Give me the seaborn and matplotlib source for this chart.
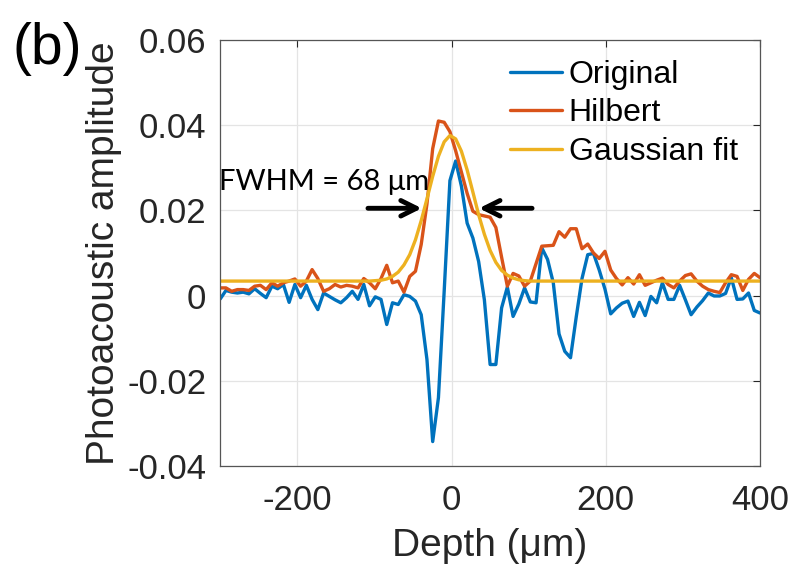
import numpy as np
import pandas as pd
import matplotlib
matplotlib.use("Agg")
import matplotlib.pyplot as plt
import seaborn as sns

# depth grid (um), 95 samples from -300 to 400
depth = np.linspace(-300, 400, 95)

original = [
    -0.0008, 0.0012, 0.0008, 0.0006, 0.0008, 0.0004, 0.0016, 0.0005, -0.0005, 0.0022,
    0.0016, 0.0026, -0.0016, 0.0026, -0.0005, 0.0024, -0.0009, -0.0033, 0.0006, -0.0002,
    -0.0010, -0.0017, -0.0005, 0.0010, -0.0009, 0.0026, -0.0024, -0.0003, -0.0009, -0.0068,
    -0.0017, -0.0021, 0.0002, -0.0002, -0.0013, -0.0045, -0.0150, -0.0343, -0.0240, 0.0010,
    0.0270, 0.0316, 0.0257, 0.0170, 0.0135, 0.0080, -0.0010, -0.0162, -0.0162, -0.0029,
    0.0020, -0.0049, -0.0020, 0.0018, -0.0015, -0.0017, 0.0112, 0.0085, 0.0030, -0.0090,
    -0.0131, -0.0146, -0.0050, 0.0040, 0.0096, 0.0099, 0.0060, 0.0015, -0.0043, -0.0029,
    -0.0018, -0.0013, -0.0049, -0.0016, -0.0047, -0.0002, -0.0017, 0.0030, -0.0009, -0.0009,
    0.0024, -0.0010, -0.0045, -0.0027, -0.0012, 0.0006, -0.0001, -0.0001, 0.0005, 0.0042,
    -0.0009, -0.0008, 0.0006, -0.0035, -0.0041,
]

hilbert = [
    0.0018, 0.0018, 0.0010, 0.0014, 0.0014, 0.0012, 0.0022, 0.0024, 0.0014, 0.0030,
    0.0022, 0.0030, 0.0034, 0.0039, 0.0022, 0.0034, 0.0061, 0.0040, 0.0010, 0.0016,
    0.0026, 0.0020, 0.0024, 0.0022, 0.0018, 0.0040, 0.0030, 0.0016, 0.0040, 0.0071,
    0.0030, 0.0034, 0.0008, 0.0045, 0.0057, 0.0120, 0.0215, 0.0345, 0.0410, 0.0407,
    0.0385, 0.0340, 0.0290, 0.0240, 0.0198, 0.0190, 0.0187, 0.0184, 0.0160, 0.0090,
    0.0022, 0.0052, 0.0046, 0.0022, 0.0034, 0.0075, 0.0116, 0.0117, 0.0118, 0.0150,
    0.0137, 0.0157, 0.0157, 0.0110, 0.0121, 0.0100, 0.0087, 0.0104, 0.0060, 0.0040,
    0.0025, 0.0042, 0.0027, 0.0049, 0.0024, 0.0030, 0.0036, 0.0041, 0.0026, 0.0018,
    0.0034, 0.0047, 0.0051, 0.0034, 0.0022, 0.0014, 0.0010, 0.0007, 0.0030, 0.0049,
    0.0045, 0.0012, 0.0038, 0.0052, 0.0042,
]

gauss_fit = [
    0.0034, 0.0034, 0.0034, 0.0034, 0.0034, 0.0034, 0.0034, 0.0034, 0.0034, 0.0034,
    0.0034, 0.0034, 0.0034, 0.0034, 0.0034, 0.0034, 0.0034, 0.0034, 0.0034, 0.0034,
    0.0034, 0.0034, 0.0034, 0.0034, 0.0034, 0.0034, 0.0034, 0.0035, 0.0036, 0.0039,
    0.0045, 0.0055, 0.0072, 0.0096, 0.0131, 0.0176, 0.0227, 0.0280, 0.0327, 0.0361,
    0.0376, 0.0368, 0.0339, 0.0295, 0.0243, 0.0190, 0.0144, 0.0106, 0.0078, 0.0059,
    0.0048, 0.0041, 0.0037, 0.0035, 0.0034, 0.0034, 0.0034, 0.0034, 0.0034, 0.0034,
    0.0034, 0.0034, 0.0034, 0.0034, 0.0034, 0.0034, 0.0034, 0.0034, 0.0034, 0.0034,
    0.0034, 0.0034, 0.0034, 0.0034, 0.0034, 0.0034, 0.0034, 0.0034, 0.0034, 0.0034,
    0.0034, 0.0034, 0.0034, 0.0034, 0.0034, 0.0034, 0.0034, 0.0034, 0.0034, 0.0034,
    0.0034, 0.0034, 0.0034, 0.0034, 0.0034,
]

series_names = ["Original", "Hilbert", "Gaussian fit"]
series_colors = ["#0072BD", "#D95319", "#EDB120"]

x_ticks = [-200, 0, 200, 400]
y_ticks = [-0.04, -0.02, 0, 0.02, 0.04, 0.06]
y_tick_labels = ["-0.04", "-0.02", "0", "0.02", "0.04", "0.06"]

df = pd.DataFrame({
    "depth": np.concatenate([depth, depth, depth]),
    "amp": np.concatenate([original, hilbert, gauss_fit]),
    "series": np.repeat(series_names, len(depth)),
})

sns.set_theme(style="whitegrid")
plt.rcParams["font.family"] = ["Liberation Sans", "DejaVu Sans"]

fig = plt.figure(figsize=(7.95, 5.73), dpi=100)
ax = fig.add_axes([0.277, 0.187, 0.679, 0.743])

sns.lineplot(data=df, x="depth", y="amp", hue="series", hue_order=series_names,
             palette=series_colors, linewidth=2.4, ax=ax, sort=False)

ax.set_xlim(-300, 400)
ax.set_ylim(-0.04, 0.06)
ax.set_xticks(x_ticks)
ax.set_xticklabels([str(t) for t in x_ticks])
ax.set_yticks(y_ticks)
ax.set_yticklabels(y_tick_labels)
ax.tick_params(axis="both", labelsize=25, colors="#262626", direction="in",
               length=5, width=0.8, top=True, right=True)
ax.tick_params(axis="x", pad=13)
ax.tick_params(axis="y", pad=10)
ax.grid(True, color="#e4e4e4", linewidth=0.9)
for s in ax.spines.values():
    s.set_visible(True)
    s.set_color("#555555")
    s.set_linewidth(0.9)

ax.set_xlabel("Depth (\u03bcm)", fontsize=28, color="#262626", labelpad=8)
ax.set_ylabel("Photoacoustic amplitude", fontsize=28, color="#262626", labelpad=4)

leg = ax.legend(loc="upper left", bbox_to_anchor=(0.536, 0.953), frameon=False,
                fontsize=23, handlelength=1.65, handletextpad=0.2, labelspacing=0.26,
                borderpad=0, borderaxespad=0)
for line in leg.get_lines():
    line.set_linewidth(2.4)
for t in leg.get_texts():
    t.set_color("black")

# FWHM arrows
ax.annotate("", xy=(-35, 0.0205), xytext=(-112, 0.0205),
            arrowprops=dict(arrowstyle="->", lw=3.5, color="black", mutation_scale=28))
ax.annotate("", xy=(32, 0.0205), xytext=(108, 0.0205),
            arrowprops=dict(arrowstyle="->", lw=3.5, color="black", mutation_scale=28))
ax.text(-302, 0.0266, "FWHM = 68 \u03bcm", fontsize=21, color="black",
        family=["Lato", "DejaVu Sans"], va="center", ha="left")

fig.text(0.016, 0.915, "(b)", fontsize=41, color="black", va="center", ha="left")

fig.savefig("out.png", dpi=100)
